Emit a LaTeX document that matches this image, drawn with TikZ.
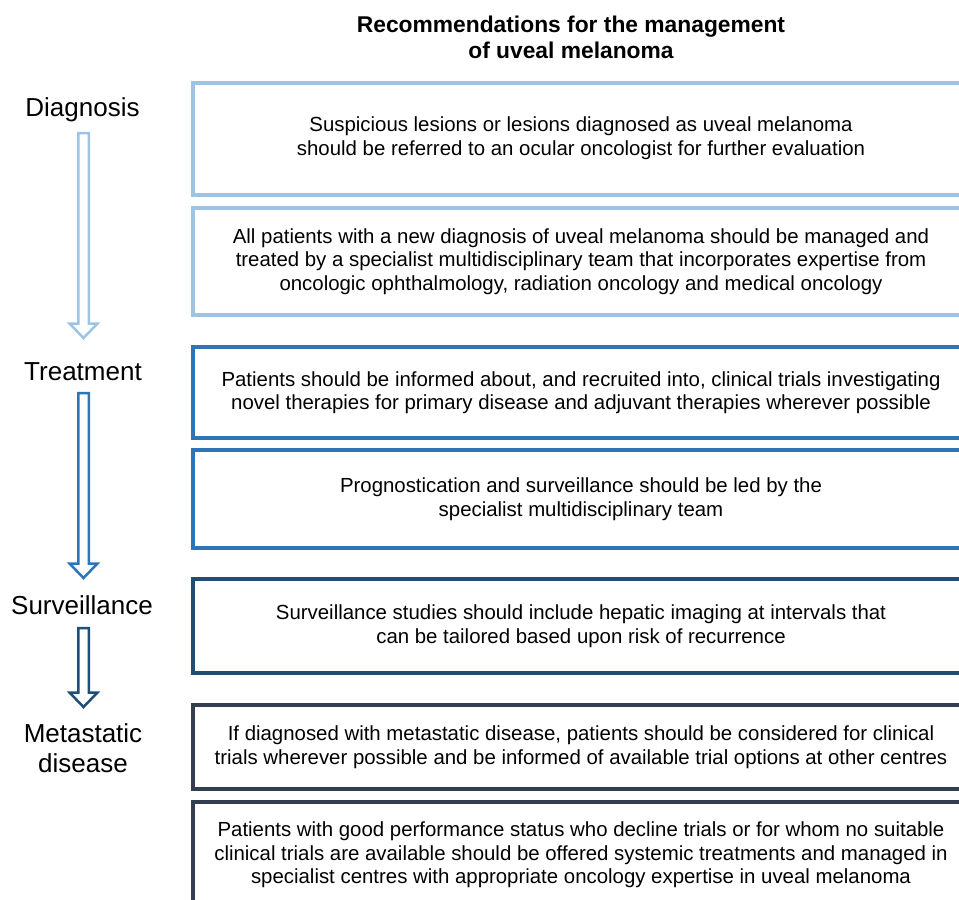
\documentclass[tikz,border=0pt]{standalone}
\usepackage{fontspec}
\setmainfont{Liberation Sans}
\usetikzlibrary{calc}
\definecolor{cdiag}{HTML}{9DC3E6}
\definecolor{ctreat}{HTML}{2E75B6}
\definecolor{csurv}{HTML}{1F4E79}
\definecolor{cmeta}{HTML}{333F50}
\newcommand\blockarrow[3]{%
  \draw[#1, line width=2.5pt, fill=white, line join=miter]
    let \p1=#2, \p2=#3 in
    (\x1-5.25pt,\y1) -- (\x1+5.25pt,\y1) -- (\x1+5.25pt,\y2+14.5pt) --
    (\x1+14pt,\y2+14.5pt) -- (\x1,\y2) -- (\x1-14pt,\y2+14.5pt) --
    (\x1-5.25pt,\y2+14.5pt) -- cycle;}
\begin{document}
\begin{tikzpicture}[x=1pt,y=-1pt,
  recbox/.style={draw=#1, line width=4pt, rectangle, minimum width=776pt,
    align=center, font=\fontsize{20.4}{23.5}\selectfont, inner sep=0pt},
  stage/.style={font=\fontsize{26}{30}\selectfont, inner sep=0pt, align=center},
  heading/.style={font=\bfseries\fontsize{22.8}{26}\selectfont, align=center, inner sep=0pt}]
\useasboundingbox (0,0) rectangle (959,900);
\clip (0,0) rectangle (959,900);

% title
\node[heading] (title) at (571,37) {Recommendations for the management\\of uveal melanoma};

% stage labels
\node[stage, anchor=base] (diag) at (82.5,116) {Diagnosis};
\node[stage, anchor=base] (treat) at (83,380) {Treatment};
\node[stage, anchor=base] (surv) at (82,614) {Surveillance};
\node[stage, anchor=north] (meta) at (83,723) {Metastatic\\disease};

% arrows
\blockarrow{cdiag}{($(diag.base)+(1,17)$)}{($(treat.base)+(0.5,-42)$)}
\blockarrow{ctreat}{($(treat.base)+(0.5,13)$)}{($(surv.base)+(1.5,-36)$)}
\blockarrow{csurv}{($(surv.base)+(1.5,14)$)}{($(meta.north)+(0.5,-16)$)}

% recommendation boxes
\node[recbox=cdiag, minimum height=112pt] (b1) at (581,139)
  {\raisebox{3.5pt}{\begin{tabular}{@{}c@{}}Suspicious lesions or lesions diagnosed as uveal melanoma\\[0.7pt]should be referred to an ocular oncologist for further evaluation\end{tabular}}};
\node[recbox=cdiag, minimum height=107pt] (b2) at (581,261.5)
  {All patients with a new diagnosis of uveal melanoma should be managed and\\treated by a specialist multidisciplinary team that incorporates expertise from\\oncologic ophthalmology, radiation oncology and medical oncology};
\node[recbox=ctreat, minimum height=91pt] (b3) at (581,392.5)
  {Patients should be informed about, and recruited into, clinical trials investigating\\novel therapies for primary disease and adjuvant therapies wherever possible};
\node[recbox=ctreat, minimum height=98pt] (b4) at (581,499)
  {Prognostication and surveillance should be led by the\\specialist multidisciplinary team};
\node[recbox=csurv, minimum height=94pt] (b5) at (581,626)
  {Surveillance studies should include hepatic imaging at intervals that\\can be tailored based upon risk of recurrence};
\node[recbox=cmeta, minimum height=84pt] (b6) at (581,747)
  {If diagnosed with metastatic disease, patients should be considered for clinical\\trials wherever possible and be informed of available trial options at other centres};
\node[recbox=cmeta, minimum height=106pt] (b7) at (581,855)
  {Patients with good performance status who decline trials or for whom no suitable\\clinical trials are available should be offered systemic treatments and managed in\\specialist centres with appropriate oncology expertise in uveal melanoma};
\end{tikzpicture}
\end{document}
